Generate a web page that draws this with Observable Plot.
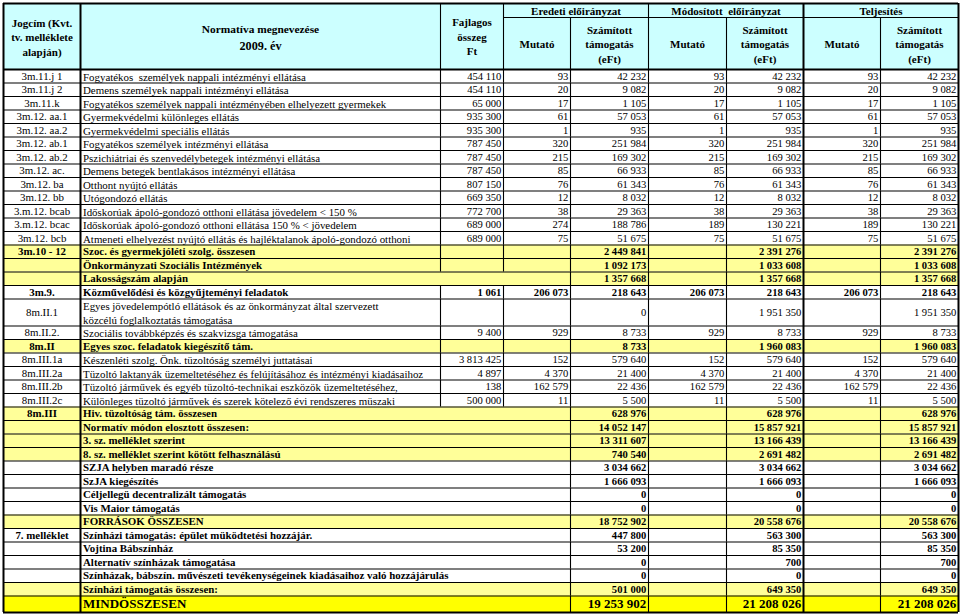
<!DOCTYPE html>
<html><head><meta charset="utf-8">
<script src="https://cdn.jsdelivr.net/npm/d3@7"></script>
<script src="https://cdn.jsdelivr.net/npm/@observablehq/plot@0.6"></script>
<style>html,body{margin:0;padding:0;background:#fff;}</style>
</head><body><div id="chart"></div>
<script>
// ---------- DATA ----------
const headTitles = ["Jogcím (Kvt.\ntv. melléklete\nalapján)", "Normatíva megnevezése", "2009. év", "Fajlagos\nösszeg\nFt"];
const groupTitles = ["Eredeti előirányzat", "Módosított  előirányzat", "Teljesítés"];
const subTitles = ["Mutató", "Számított\ntámogatás\n(eFt)"];

const codes = ["3m.11.j 1","3m.11.j 2","3m.11.k","3m.12. aa.1","3m.12. aa.2","3m.12. ab.1","3m.12. ab.2","3m.12. ac.","3m.12. ba","3m.12. bb","3.m.12. bcab","3.m.12. bcac","3m.12. bcb","3m.10 - 12","","","3m.9.","8m.II.1","8m.II.2.","8m.II","8m.III.1a","8m.III.2a","8m.III.2b","8m.III.2c","8m.III","","","","","","","","","7. melléklet","","","","",""];

const names = [
"Fogyatékos  személyek nappali intézményi ellátása",
"Demens személyek nappali intézményi ellátása",
"Fogyatékos személyek nappali intézményében elhelyezett gyermekek",
"Gyermekvédelmi különleges ellátás",
"Gyermekvédelmi speciális ellátás",
"Fogyatékos személyek intézményi ellátása",
"Pszichiátriai és szenvedélybetegek intézményi ellátása",
"Demens betegek bentlakásos intézményi ellátása",
"Otthont nyújtó ellátás",
"Utógondozó ellátás",
"Időskorúak ápoló-gondozó otthoni ellátása jövedelem < 150 %",
"Időskorúak ápoló-gondozó otthoni ellátása 150 % < jövedelem",
"Atmeneti elhelyezést nyújtó ellátás és hajléktalanok ápoló-gondozó otthoni",
"Szoc. és gyermekjóléti szolg. összesen",
"Önkormányzati Szociális Intézmények",
"Lakosságszám alapján",
"Közművelődési és közgyűjteményi feladatok",
"Egyes jövedelempótló ellátások és az önkormányzat által szervezett\nközcélú foglalkoztatás támogatása",
"Szociális továbbképzés és szakvizsga támogatása",
"Egyes szoc. feladatok kiegészítő tám.",
"Készenléti szolg. Önk. tüzoltóság személyi juttatásai",
"Tüzoltó laktanyák üzemeltetéséhez és felújításához és intézményi kiadásaihoz",
"Tüzoltó járművek és egyéb tüzoltó-technikai eszközök üzemeltetéséhez,",
"Különleges tüzoltó járművek és szerek kötelező évi rendszeres müszaki",
"Hiv. tüzoltóság tám. összesen",
"Normatív módon elosztott összesen:",
"3. sz. melléklet szerint",
"8. sz. melléklet szerint kötött felhasználású",
"SZJA helyben maradó része",
"SzJA kiegészítés",
"Céljellegü decentralizált támogatás",
"Vis Maior támogatás",
"FORRÁSOK ÖSSZESEN",
"Színházi támogatás: épület müködtetési hozzájár.",
"Vojtina Bábszínház",
"Alternatív színházak támogatása",
"Színházak, bábszín. művészeti tevékenységeinek kiadásaihoz való hozzájárulás",
"Színházi támogatás összesen:",
"MINDÖSSZESEN"];

// row kind: item | boldItem | sum | sumWide | boldWide | total
const rowKinds = ["item","item","item","item","item","item","item","item","item","item","item","item","item",
"sum","sum","sumWide","boldItem","item","item","sum","item","item","item","item",
"sumWide","sumWide","sumWide","sumWide","boldWide","boldWide","boldWide","boldWide","sumWide",
"boldWide","boldWide","boldWide","boldWide","sumWide","total"];

const N = null;
const fajlagos = [454110,454110,65000,935300,935300,787450,787450,787450,807150,669350,772700,689000,689000,N,N,N,1061,N,9400,N,3813425,4897,138,500000,N,N,N,N,N,N,N,N,N,N,N,N,N,N,N];
const eredetiMutato = [93,20,17,61,1,320,215,85,76,12,38,274,75,N,N,N,206073,N,929,N,152,4370,162579,11,N,N,N,N,N,N,N,N,N,N,N,N,N,N,N];
const eredetiTamogatas = [42232,9082,1105,57053,935,251984,169302,66933,61343,8032,29363,188786,51675,2449841,1092173,1357668,218643,0,8733,8733,579640,21400,22436,5500,628976,14052147,13311607,740540,3034662,1666093,0,0,18752902,447800,53200,0,0,501000,19253902];
const modositottMutato = [93,20,17,61,1,320,215,85,76,12,38,189,75,N,N,N,206073,N,929,N,152,4370,162579,11,N,N,N,N,N,N,N,N,N,N,N,N,N,N,N];
const modositottTamogatas = [42232,9082,1105,57053,935,251984,169302,66933,61343,8032,29363,130221,51675,2391276,1033608,1357668,218643,1951350,8733,1960083,579640,21400,22436,5500,628976,15857921,13166439,2691482,3034662,1666093,0,0,20558676,563300,85350,700,0,649350,21208026];
const teljesitesMutato = [93,20,17,61,1,320,215,85,76,12,38,189,75,N,N,N,206073,N,929,N,152,4370,162579,11,N,N,N,N,N,N,N,N,N,N,N,N,N,N,N];
const teljesitesTamogatas = [42232,9082,1105,57053,935,251984,169302,66933,61343,8032,29363,130221,51675,2391276,1033608,1357668,218643,1951350,8733,1960083,579640,21400,22436,5500,628976,15857921,13166439,2691482,3034662,1666093,0,0,20558676,563300,85350,700,0,649350,21208026];

// ---------- LAYOUT ----------
const L = {
  edges: [3, 80, 440, 503, 570, 648, 726, 803, 880, 958],
  top: 3, subHead: 17, headBottom: 69, pitch: 13.5, totalH: 16.5,
  pad: 2.2, descX: 82.5,
  fsText: 10.9, fsNum: 10.6, fsTotal: 13, fsHead: 11, fsYear: 12.2
};
const FONT = "Liberation Serif, Times New Roman, serif";
const colors = {head: "#CCFFFF", sum: "#FFFF99", total: "#FFFF00"};
const fmt = v => v == null ? "" : d3.format(",")(v).replace(/,/g, " ");

let yCur = L.headBottom;
const rows = names.map((name, i) => {
  const kind = rowKinds[i];
  const h = kind === "total" ? L.totalH : (name.includes("\n") ? 2 * L.pitch : L.pitch);
  const r = {i, kind, name, code: codes[i], y1: yCur, y2: yCur + h, ym: yCur + h / 2,
             bold: kind !== "item", total: kind === "total"};
  yCur += h;
  return r;
});
const tableBottom = yCur;

const numCols = [fajlagos, eredetiMutato, eredetiTamogatas, modositottMutato, modositottTamogatas, teljesitesMutato, teljesitesTamogatas];
const cells = [];
rows.forEach(r => numCols.forEach((arr, c) => {
  const v = arr[r.i];
  if (v != null) cells.push({x: L.edges[c + 3] - L.pad, y: r.ym, text: fmt(v), bold: r.bold, total: r.total});
}));

// vertical thin lines per row
const vThin = [];
rows.forEach(r => {
  const xs = (r.kind === "sumWide" || r.kind === "boldWide" || r.kind === "total")
    ? [570, 648, 726, 880] : [440, 503, 570, 648, 726, 880];
  xs.forEach(x => vThin.push({x, y1: r.y1, y2: r.y2}));
});
// header verticals
[440, 503, 648].forEach(x => vThin.push({x, y1: L.top, y2: L.headBottom}));
[570, 726, 880].forEach(x => vThin.push({x, y1: L.subHead, y2: L.headBottom}));
const vThick = [3, 80, 803, 958].map(x => ({x, y1: L.top, y2: tableBottom}));
const hThin = rows.slice(0, -1).map(r => ({y: r.y2, x1: L.edges[0], x2: L.edges[9]}));
hThin.push({y: L.subHead, x1: 503, x2: 958});
const hThick = [L.top, L.headBottom, tableBottom].map(y => ({y, x1: L.edges[0], x2: L.edges[9]}));

// header texts
const headText = [
  {x: (L.edges[0] + L.edges[1]) / 2, y: 36, text: headTitles[0], fs: L.fsHead},
  {x: (L.edges[1] + L.edges[2]) / 2, y: 28, text: headTitles[1], fs: L.fsHead + 0.4},
  {x: (L.edges[1] + L.edges[2]) / 2, y: 44.5, text: headTitles[2], fs: L.fsYear},
  {x: (L.edges[2] + L.edges[3]) / 2, y: 35.5, text: headTitles[3], fs: L.fsHead}
];
groupTitles.forEach((t, g) => {
  const a = L.edges[3 + 2 * g], b = L.edges[5 + 2 * g], m = L.edges[4 + 2 * g];
  headText.push({x: (a + b) / 2, y: 10, text: t, fs: L.fsHead});
  headText.push({x: (a + m) / 2, y: 43, text: subTitles[0], fs: L.fsHead});
  headText.push({x: (m + b) / 2, y: 43, text: subTitles[1], fs: L.fsHead});
});

const textCommon = {fontFamily: FONT, fill: "black", lineAnchor: "middle"};

const chart = Plot.plot({
  width: 960, height: 615, margin: 0,
  x: {domain: [0, 960], axis: null},
  y: {domain: [0, 615], range: [0, 615], axis: null},
  style: {background: "white", fontFamily: FONT},
  marks: [
    Plot.rect([{}], {x1: L.edges[0], x2: L.edges[9], y1: L.top, y2: L.headBottom, fill: colors.head}),
    Plot.rect(rows.filter(r => r.kind === "sum" || r.kind === "sumWide"), {x1: L.edges[0], x2: L.edges[9], y1: "y1", y2: "y2", fill: colors.sum}),
    Plot.rect(rows.filter(r => r.kind === "total"), {x1: L.edges[0], x2: L.edges[9], y1: "y1", y2: "y2", fill: colors.total}),
    Plot.ruleY(hThin, {y: "y", x1: "x1", x2: "x2", stroke: "#000", strokeWidth: 1.1}),
    Plot.ruleX(vThin, {x: "x", y1: "y1", y2: "y2", stroke: "#000", strokeWidth: 1.1}),
    Plot.ruleY(hThick, {y: "y", x1: "x1", x2: "x2", stroke: "#000", strokeWidth: 2}),
    Plot.ruleX(vThick, {x: "x", y1: "y1", y2: "y2", stroke: "#000", strokeWidth: 2}),
    // header
    Plot.text(headText, {x: "x", y: "y", text: "text", fontSize: "fs", fontWeight: "bold", textAnchor: "middle", lineHeight: 1.33, ...textCommon}),
    // codes
    Plot.text(rows.filter(r => !r.bold && r.code), {x: (L.edges[0] + L.edges[1]) / 2, y: "ym", text: "code", fontSize: L.fsText, textAnchor: "middle", ...textCommon}),
    Plot.text(rows.filter(r => r.bold && r.code), {x: (L.edges[0] + L.edges[1]) / 2, y: "ym", text: "code", fontSize: L.fsText, fontWeight: "bold", textAnchor: "middle", ...textCommon}),
    // names
    Plot.text(rows.filter(r => !r.bold), {x: L.descX, y: "ym", text: "name", fontSize: L.fsText, textAnchor: "start", lineHeight: 1.25, ...textCommon}),
    Plot.text(rows.filter(r => r.bold && !r.total), {x: L.descX, y: "ym", text: "name", fontSize: L.fsText, fontWeight: "bold", textAnchor: "start", ...textCommon}),
    Plot.text(rows.filter(r => r.total), {x: L.descX, y: "ym", text: "name", fontSize: L.fsTotal, fontWeight: "bold", textAnchor: "start", ...textCommon}),
    // numbers
    Plot.text(cells.filter(c => !c.bold), {x: "x", y: "y", text: "text", fontSize: L.fsNum, textAnchor: "end", ...textCommon}),
    Plot.text(cells.filter(c => c.bold && !c.total), {x: "x", y: "y", text: "text", fontSize: L.fsNum, fontWeight: "bold", textAnchor: "end", ...textCommon}),
    Plot.text(cells.filter(c => c.total), {x: "x", y: "y", text: "text", fontSize: L.fsTotal, fontWeight: "bold", textAnchor: "end", ...textCommon})
  ]
});
document.getElementById("chart").appendChild(chart);
</script>
</body></html>
